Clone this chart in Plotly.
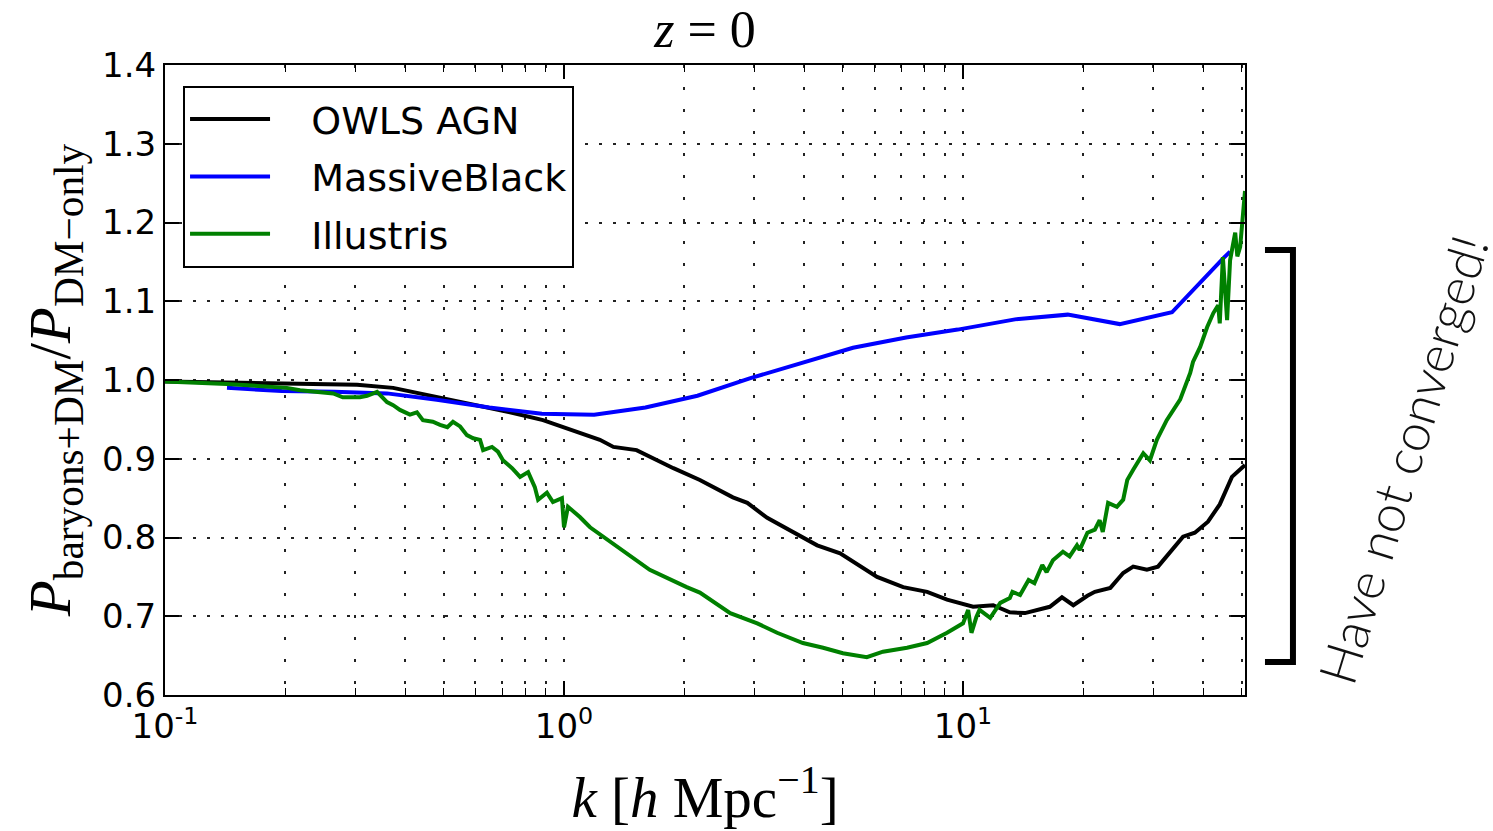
import plotly.graph_objects as go

# ---------------- data ----------------
owls_k = [0.1, 0.202, 0.303, 0.373, 0.454, 0.605, 0.732, 0.886, 1.0, 1.08, 1.23, 1.33, 1.52,
          1.88, 2.19, 2.65, 2.88, 3.23, 3.97, 4.31, 4.92, 6.09, 7.08, 8.13, 9.12, 10.6, 11.9,
          13.1, 14.3, 16.5, 17.7, 18.9, 20.5, 21.4, 23.4, 25.2, 26.7, 28.9, 30.8, 33.4, 35.6,
          38.1, 41.1, 44.0, 47.2, 50.9]
owls_v = [0.998, 0.996, 0.994, 0.990, 0.981, 0.968, 0.959, 0.949, 0.940, 0.934, 0.924, 0.915, 0.911,
          0.888, 0.873, 0.851, 0.844, 0.825, 0.800, 0.790, 0.780, 0.750, 0.737, 0.731, 0.721, 0.712, 0.714,
          0.705, 0.704, 0.712, 0.724, 0.714, 0.726, 0.731, 0.736, 0.755, 0.763, 0.759, 0.763, 0.784, 0.801,
          0.806, 0.820, 0.842, 0.877, 0.892]

mb_k = [0.143, 0.196, 0.265, 0.36, 0.48, 0.65, 0.88, 1.19, 1.6, 2.16, 2.92, 3.95, 5.3, 7.2,
        9.7, 13.5, 18.3, 24.7, 33.4, 45.0, 46.7]
mb_v = [0.990, 0.986, 0.985, 0.983, 0.975, 0.965, 0.957, 0.956, 0.965, 0.980, 1.002, 1.022, 1.041, 1.054,
        1.064, 1.077, 1.083, 1.071, 1.086, 1.155, 1.163]

ill_k = [0.100, 0.143, 0.202, 0.218, 0.264, 0.279, 0.308, 0.321, 0.340, 0.360, 0.373, 0.388, 0.411,
         0.428, 0.443, 0.469, 0.489, 0.510, 0.527, 0.549, 0.571, 0.592, 0.616, 0.627, 0.660, 0.683,
         0.703, 0.741, 0.776, 0.813, 0.845, 0.861, 0.906, 0.938, 0.988, 1.00, 1.023, 1.096, 1.162,
         1.23, 1.29, 1.405, 1.64, 2.03, 2.19, 2.61, 3.05, 3.42, 3.97, 4.46, 5.0, 5.74, 6.30, 7.24,
         8.13, 9.12, 10.0, 10.3, 10.5, 10.8, 11.0, 11.7, 12.4, 13.1, 13.3, 13.9, 14.6, 15.1, 15.8,
         16.2, 16.8, 17.8, 18.5, 19.3, 19.6, 20.5, 21.4, 22.0, 22.4, 23.1, 24.3, 25.2, 25.8, 26.7,
         28.3, 29.4, 30.6, 32.4, 33.6, 35.0, 37.1, 37.7, 39.3, 40.9, 42.4, 43.6, 44.0, 44.8, 45.9,
         46.7, 48.1, 48.7, 49.5, 50.9]
ill_v = [0.998, 0.995, 0.990, 0.987, 0.983, 0.978, 0.978, 0.980, 0.985, 0.972, 0.968, 0.962, 0.956,
         0.959, 0.949, 0.947, 0.943, 0.940, 0.947, 0.941, 0.930, 0.926, 0.924, 0.911, 0.915, 0.909,
         0.898, 0.888, 0.877, 0.883, 0.864, 0.848, 0.857, 0.845, 0.850, 0.813, 0.839, 0.826, 0.813,
         0.804, 0.796, 0.784, 0.759, 0.737, 0.730, 0.704, 0.691, 0.679, 0.666, 0.660, 0.653, 0.648, 0.655, 0.660,
         0.666, 0.679, 0.691, 0.708, 0.679, 0.699, 0.708, 0.698, 0.717, 0.723, 0.731, 0.727, 0.746, 0.742, 0.765,
         0.756, 0.771, 0.782, 0.776, 0.790, 0.784, 0.806, 0.810, 0.822, 0.807, 0.844, 0.839, 0.848, 0.873, 0.886,
         0.907, 0.898, 0.924, 0.949, 0.962, 0.975, 1.009, 1.023, 1.042, 1.067, 1.085, 1.095, 1.072, 1.156, 1.076,
         1.152, 1.187, 1.157, 1.169, 1.240]

series_names = ["OWLS AGN", "MassiveBlack", "Illustris"]
series_colors = ["#000000", "#0000ff", "#008000"]

x_major = [0.1, 1, 10]
x_major_text = ["10<sup>-1</sup>", "10<sup>0</sup>", "10<sup>1</sup>"]
x_minor = [0.2, 0.3, 0.4, 0.5, 0.6, 0.7, 0.8, 0.9, 2, 3, 4, 5, 6, 7, 8, 9, 20, 30, 40, 50]
y_ticks = [0.6, 0.7, 0.8, 0.9, 1.0, 1.1, 1.2, 1.3, 1.4]

# ---------------- figure ----------------
fig = go.Figure()
pad = "\u00a0\u00a0\u00a0"
for i, (k, v) in enumerate([(owls_k, owls_v), (mb_k, mb_v), (ill_k, ill_v)]):
    fig.add_trace(go.Scatter(
        x=k, y=v, mode="lines", name=pad + series_names[i], legendgroup=series_names[i],
        line=dict(color=series_colors[i], width=4),
    ))

serif = "Liberation Serif"
sans = "DejaVu Sans"

fig.update_layout(
    width=1493, height=831,
    margin=dict(l=165, r=248, t=65, b=136),
    paper_bgcolor="white", plot_bgcolor="white",
    title=dict(text="<i>z</i> = 0", x=0.5, xref="paper", xanchor="center",
               y=0.965, yref="container", yanchor="middle",
               font=dict(family=serif, size=52, color="black")),
    legend=dict(x=0.0167, y=0.967, xanchor="left", yanchor="top",
                bgcolor="white", bordercolor="black", borderwidth=2,
                font=dict(family=sans, size=38, color="black"),
                itemwidth=80, tracegroupgap=5),
    showlegend=True,
)

fig.update_xaxes(
    type="log", range=[-1, 1.7067],
    tickmode="array", tickvals=x_major, ticktext=x_major_text,
    ticks="inside", ticklen=14, tickwidth=1.5, tickcolor="black",
    showline=True, linecolor="black", linewidth=2, mirror="allticks",
    showgrid=True, gridcolor="#222222", gridwidth=1.5, griddash="3px,19px",
    tickfont=dict(family=sans, size=34, color="black"),
    minor=dict(tickmode="array", tickvals=x_minor, ticks="inside", ticklen=7,
               tickcolor="black", tickwidth=1.2,
               showgrid=True, gridcolor="#222222", gridwidth=1.5, griddash="3px,19px"),
    title=dict(text="<i>k</i> [<i>h</i> Mpc<sup>−1</sup>]",
               font=dict(family=serif, size=57, color="black"), standoff=32),
    zeroline=False,
)

fig.update_yaxes(
    range=[0.6, 1.4], tickmode="array", tickvals=y_ticks, tickformat=".1f",
    ticks="inside", ticklen=14, tickwidth=1.5, tickcolor="black",
    showline=True, linecolor="black", linewidth=2, mirror="allticks",
    showgrid=True, gridcolor="#222222", gridwidth=1.5, griddash="3px,11px",
    tickfont=dict(family=sans, size=34, color="black"),
    title=dict(text="<i>P</i><sub>baryons+DM</sub>/<i>P</i><sub>DM−only</sub>",
               font=dict(family=serif, size=59, color="black"), standoff=12),
    zeroline=False,
)

# bracket on the right
fig.add_shape(type="path", xref="paper", yref="paper",
              path="M1.0185,0.7063 L1.0444,0.7063 L1.0444,0.0524 L1.0185,0.0524",
              line=dict(color="black", width=6))

fig.add_annotation(text="Have not converged!", xref="paper", yref="paper",
                   x=1.146, y=0.374, xanchor="center", yanchor="middle",
                   showarrow=False, textangle=-73,
                   font=dict(family="Lato", size=52, color="#111111", weight=300))

fig.write_html("out.html")
